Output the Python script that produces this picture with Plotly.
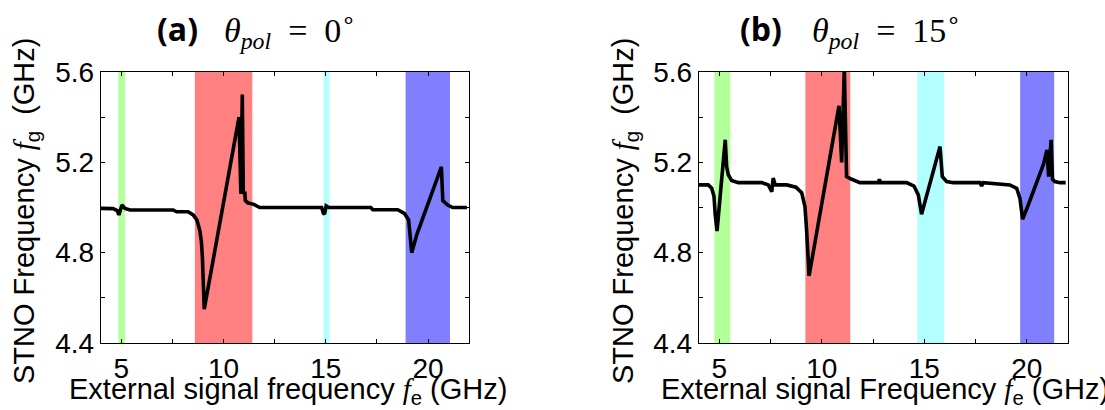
import plotly.graph_objects as go

# ---------------- data ----------------
# Panel (a): theta_pol = 0 deg
fe_a = [4.0, 4.6, 4.81, 4.89, 5.04, 5.19, 5.43, 7.54, 7.71, 8.27, 8.52, 8.7, 8.84, 8.92, 8.97, 9.02, 9.06,
        10.76, 10.85, 10.92, 10.97, 11.04, 11.07, 11.2, 11.45, 11.77,
        14.8, 14.88, 14.94, 15.02, 15.15, 17.2, 17.3, 18.52, 18.84, 19.05, 19.12, 19.2,
        19.45, 19.65, 19.85, 20.05, 20.3, 20.45, 20.65, 20.72, 20.96, 21.2, 21.9]
fg_a = [4.996, 4.995, 4.986, 4.967, 5.011, 4.996, 4.989, 4.989, 4.981, 4.981, 4.967, 4.945, 4.90, 4.85, 4.78, 4.65, 4.55,
        5.40, 5.06, 5.50, 5.06, 5.07, 5.03, 5.02, 5.015, 5.0,
        5.0, 4.975, 4.97, 5.007, 5.0, 5.0, 4.99, 4.99, 4.974, 4.945, 4.886, 4.80,
        4.88, 4.93, 4.98, 5.03, 5.09, 5.12, 5.18, 5.03, 5.011, 5.0, 5.0]

# Panel (b): theta_pol = 15 deg
fe_b = [4.0, 4.46, 4.63, 4.74, 4.80, 4.89, 5.29, 5.36, 5.44, 5.6, 5.93, 7.07, 7.39, 7.56, 7.63, 7.73,
        8.29, 8.74, 9.02, 9.18, 9.26, 9.38, 10.84, 10.97, 11.1, 11.21, 11.46, 11.86, 12.76, 12.81, 12.87,
        14.14, 14.5, 14.71, 14.87, 15.77, 15.88, 16.09, 16.42, 17.72, 17.8, 17.88, 19.18, 19.51, 19.67,
        19.8, 20.07, 20.48, 20.81, 20.99, 21.07, 21.19, 21.26, 21.37, 21.62, 21.9]
fg_b = [5.10, 5.10, 5.085, 5.05, 4.97, 4.896, 5.30, 5.18, 5.145, 5.12, 5.11, 5.11, 5.10, 5.07, 5.13, 5.10,
        5.10, 5.09, 5.066, 5.004, 4.90, 4.697, 5.45, 5.20, 5.62, 5.137, 5.125, 5.11, 5.11, 5.125, 5.11,
        5.11, 5.095, 5.056, 4.97, 5.27, 5.137, 5.115, 5.11, 5.11, 5.095, 5.11, 5.10, 5.085, 5.04,
        4.948, 5.01, 5.11, 5.19, 5.255, 5.137, 5.30, 5.125, 5.115, 5.11, 5.11]

# highlighted frequency bands [start, end]
bands_a = [[4.86, 5.19], [8.6, 11.41], [14.89, 15.19], [18.9, 21.07]]
bands_b = [[4.76, 5.54], [9.2, 11.39], [14.66, 15.98], [19.68, 21.34]]
band_colors = ["#b3ff99", "#ff8080", "#b3ffff", "#8080ff"]

x_tickvals = [5, 10, 15, 20]
y_tickvals = [4.4, 4.8, 5.2, 5.6]

W, H = 1105, 410
FONT = "Liberation Sans, Arial, sans-serif"
SERIF = "Liberation Serif"

fig = go.Figure()
fig.add_trace(go.Scatter(x=fe_a, y=fg_a, mode="lines", line=dict(color="black", width=3.6),
                         xaxis="x", yaxis="y", showlegend=False))
fig.add_trace(go.Scatter(x=fe_b, y=fg_b, mode="lines", line=dict(color="black", width=3.6),
                         xaxis="x2", yaxis="y2", showlegend=False))

shapes = []
for bands, xr, yr in [(bands_a, "x", "y"), (bands_b, "x2", "y2")]:
    for (b0, b1), c in zip(bands, band_colors):
        shapes.append(dict(type="rect", xref=xr, yref=yr + " domain", x0=b0, x1=b1, y0=0, y1=1,
                           fillcolor=c, line=dict(width=0), layer="below"))

def xax(domain, anchor):
    return dict(domain=domain, anchor=anchor, range=[4, 22], tickvals=x_tickvals,
                ticks="inside", ticklen=4, tickcolor="black", showline=True, linecolor="black",
                linewidth=1, mirror="ticks", showgrid=False, zeroline=False, automargin=False,
                tickfont=dict(family=FONT, size=28, color="black"),
                minor=dict(ticks="inside", dtick=2.5, tick0=0, ticklen=4, tickcolor="black", showgrid=False))

def yax(anchor):
    return dict(domain=[1 - 343 / H, 1 - 72 / H], anchor=anchor, range=[4.4, 5.6], tickvals=y_tickvals,
                ticks="inside", ticklen=4, tickcolor="black", showline=True, linecolor="black",
                linewidth=1, mirror="ticks", showgrid=False, zeroline=False, automargin=False,
                tickfont=dict(family=FONT, size=28, color="black"), tickformat=".1f",
                minor=dict(ticks="inside", dtick=0.2, tick0=4.4, ticklen=4, tickcolor="black", showgrid=False))

f_it = '<span style="font-family:Liberation Serif;font-style:italic">f</span>'

ann = []
def px(x):
    return x / W
def py(y):
    return 1 - y / H

# titles
for lab, xl, xm, ang in [("(a)", 155, 222, "0"), ("(b)", 738, 810, "15")]:
    ann.append(dict(text="<b>" + lab + "</b>", x=px(xl), y=py(28), xref="paper", yref="paper",
                    xanchor="left", yanchor="middle", showarrow=False,
                    font=dict(family="Open Sans", size=32, color="black")))
    ann.append(dict(text="<i>θ</i><sub><i>pol</i></sub>  =  " + ang + "<sup>∘</sup>",
                    x=px(xm), y=py(31), xref="paper", yref="paper",
                    xanchor="left", yanchor="middle", showarrow=False,
                    font=dict(family=SERIF, size=34, color="black")))

# y-axis titles
for xc in [26, 625]:
    ann.append(dict(text="STNO Frequency " + f_it + "<sub>g</sub>  (GHz)", textangle=-90,
                    x=px(xc), y=py(211), xref="paper", yref="paper",
                    xanchor="center", yanchor="middle", showarrow=False,
                    font=dict(family=FONT, size=29, color="black")))

# x-axis titles
for xc, word in [(288, "frequency"), (885, "Frequency")]:
    ann.append(dict(text="External signal " + word + " " + f_it + "<sub>e</sub> (GHz)",
                    x=px(xc), y=py(391), xref="paper", yref="paper",
                    xanchor="center", yanchor="middle", showarrow=False,
                    font=dict(family=FONT, size=29, color="black")))

fig.update_layout(
    width=W, height=H, margin=dict(l=0, r=0, t=0, b=0, pad=0, autoexpand=False),
    paper_bgcolor="white", plot_bgcolor="white",
    xaxis=xax([100.7 / W, 469 / W], "y"),
    yaxis=yax("x"),
    xaxis2=xax([698.8 / W, 1067.7 / W], "y2"),
    yaxis2=yax("x2"),
    shapes=shapes, annotations=ann, showlegend=False,
)

fig.write_html("out.html", config={"displayModeBar": False},
               post_script="document.body.style.margin='0';document.body.style.overflow='hidden';")
